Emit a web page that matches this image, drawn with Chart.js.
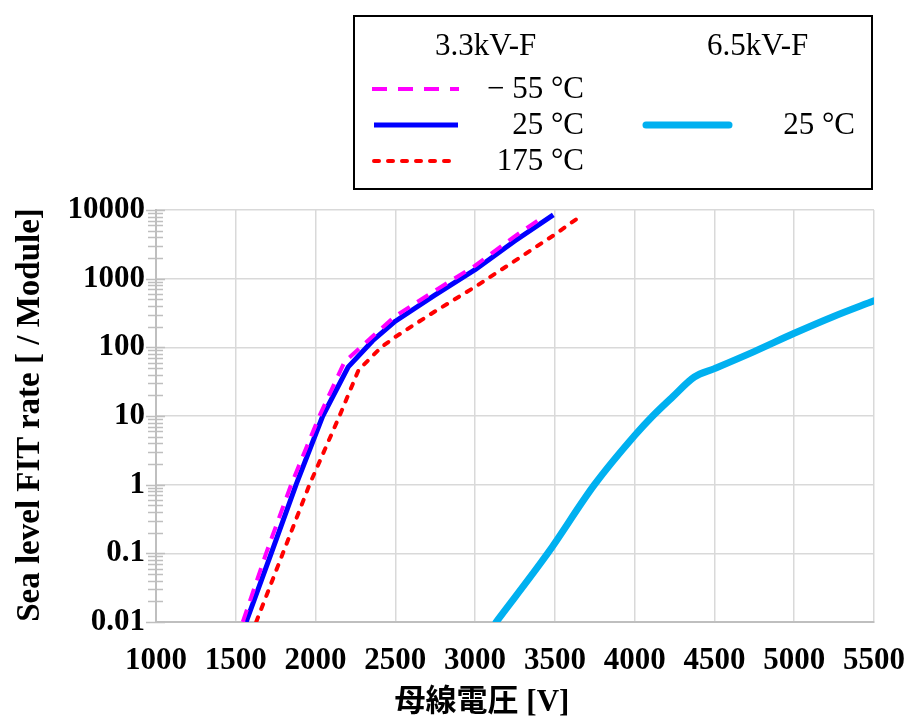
<!DOCTYPE html>
<html>
<head>
<meta charset="utf-8">
<script src="https://cdn.jsdelivr.net/npm/chart.js@4.4.1/dist/chart.umd.min.js"></script>
<style>
  html, body { margin: 0; padding: 0; background: #fff; }
  #wrap { position: relative; width: 908px; height: 717px; }
  #chart { position: absolute; left: 0; top: 0; }
  #overlay { position: absolute; left: 0; top: 0; pointer-events: none; }
  #overlay text { font-family: 'Liberation Serif', 'Noto Sans CJK JP', serif; fill: #000; }
</style>
</head>
<body>
<div id="wrap">
  <canvas id="chart" width="908" height="717"></canvas>
  <svg id="overlay" width="908" height="717"></svg>
</div>
<script>
// values
const xTickValues = [1000, 1500, 2000, 2500, 3000, 3500, 4000, 4500, 5000, 5500];
const yTickValues = [0.01, 0.1, 1, 10, 100, 1000, 10000];
const yTickLabels = ['0.01', '0.1', '1', '10', '100', '1000', '10000'];

const groupLabels = ['3.3kV-F', '6.5kV-F'];
const seriesLabels = ['− 55 °C', '25 °C', '175 °C', '25 °C'];

// 3.3kV-F, -55 C
const voltM55 = [1544, 1690, 1847, 2024, 2181, 2358, 2500, 2745, 3000, 3246, 3400];
const fitM55 = [0.01, 0.1, 1, 10, 61, 145, 285, 660, 1550, 4100, 7200];

// 3.3kV-F, 25 C
const volt25 = [1565, 1722, 1878, 2045, 2205, 2358, 2500, 2745, 3000, 3246, 3490];
const fit25 = [0.01, 0.1, 1, 10, 52, 125, 240, 570, 1350, 3500, 8500];

// 3.3kV-F, 175 C
const volt175 = [1628, 1795, 1962, 2150, 2270, 2411, 2500, 2745, 3000, 3246, 3500, 3643];
const fit175 = [0.01, 0.1, 1, 10, 47, 100, 142, 330, 760, 1800, 4400, 7600];

// 6.5kV-F, 25 C
const volt65 = [3132, 3455, 3748, 4000, 4113, 4238, 4374, 4500, 4745, 5000, 5243, 5500];
const fit65 = [0.01, 0.1, 1, 5.2, 10, 19, 37, 49, 86, 160, 279, 476];

const FONT = "'Liberation Serif', 'Noto Sans CJK JP', serif";
const GRID = '#D9D9D9';
const AXIS = '#BFBFBF';

function points(xs, ys) {
  return xs.map((x, i) => ({ x: x, y: ys[i] }));
}

const styles = [
  { color: '#FF00FF', width: 4, dash: [13, 9], cap: 'butt', legendDash: '15 11', smooth: false },
  { color: '#0000FF', width: 5, dash: [], cap: 'butt', legendDash: '', smooth: false },
  { color: '#FF0000', width: 4, dash: [5, 9], cap: 'round', legendDash: '5 9', smooth: false },
  { color: '#00B0F0', width: 7, dash: [], cap: 'round', legendDash: '', smooth: true },
];

const seriesData = [
  points(voltM55, fitM55),
  points(volt25, fit25),
  points(volt175, fit175),
  points(volt65, fit65),
];

const datasets = seriesData.map((d, i) => ({
  label: seriesLabels[i],
  data: d,
  borderColor: styles[i].color,
  borderWidth: styles[i].width,
  borderDash: styles[i].dash,
  borderCapStyle: styles[i].cap,
  borderJoinStyle: 'round',
  pointRadius: 0,
  fill: false,
  tension: styles[i].smooth ? 0.4 : 0,
  cubicInterpolationMode: styles[i].smooth ? 'monotone' : 'default',
}));

// minor ticks crossing the left axis
const minorTicks = {
  id: 'minorTicks',
  afterDraw(chart) {
    const ctx = chart.ctx;
    const ys = chart.scales.y;
    const left = chart.chartArea.left;
    ctx.save();
    ctx.strokeStyle = AXIS;
    ctx.lineWidth = 1.5;
    for (let i = 0; i < yTickValues.length; i++) {
      const dec = yTickValues[i];
      const last = i === yTickValues.length - 1;
      for (let m = 1; m <= (last ? 1 : 9); m++) {
        const py = Math.round(ys.getPixelForValue(m * dec)) + 0.5;
        const a = m === 1 ? 10 : 8;
        const b = m === 1 ? 9 : 7;
        ctx.beginPath();
        ctx.moveTo(left - a, py);
        ctx.lineTo(left + b, py);
        ctx.stroke();
      }
    }
    ctx.restore();
  },
};

new Chart(document.getElementById('chart'), {
  type: 'line',
  data: { datasets: datasets },
  plugins: [minorTicks],
  options: {
    responsive: false,
    animation: false,
    layout: { padding: { top: 210, right: 34, left: 0, bottom: 0 } },
    plugins: { legend: { display: false }, tooltip: { enabled: false } },
    scales: {
      x: {
        type: 'linear',
        min: 1000,
        max: 5500,
        afterFit(scale) {
          scale.height = 95;
          scale.paddingLeft = 0;
          scale.paddingRight = 0;
        },
        afterBuildTicks(scale) { scale.ticks = xTickValues.map((v) => ({ value: v })); },
        ticks: {
          padding: 20,
          color: '#000',
          font: { family: FONT, size: 31, weight: 'bold' },
          maxRotation: 0,
          autoSkip: false,
          callback: (v) => String(v),
        },
        grid: { color: GRID, lineWidth: 1.5, drawTicks: false },
        border: { color: AXIS, width: 2 },
      },
      y: {
        type: 'logarithmic',
        min: 0.01,
        max: 10000,
        afterFit(scale) {
          scale.width = 156;
          scale.paddingTop = 0;
          scale.paddingBottom = 0;
        },
        afterBuildTicks(scale) { scale.ticks = yTickValues.map((v) => ({ value: v })); },
        ticks: {
          padding: 11,
          color: '#000',
          font: { family: FONT, size: 31, weight: 'bold' },
          autoSkip: false,
          callback: (v) => {
            const i = yTickValues.findIndex((t) => Math.abs(Math.log10(t) - Math.log10(v)) < 1e-6);
            return i >= 0 ? yTickLabels[i] : '';
          },
        },
        grid: { color: GRID, lineWidth: 1.5, drawTicks: false },
        border: { color: AXIS, width: 2 },
      },
    },
  },
});

// legend box and axis titles as svg text
const svg = document.getElementById('overlay');
const NS = 'http://www.w3.org/2000/svg';
function add(tag, attrs, text) {
  const el = document.createElementNS(NS, tag);
  for (const k in attrs) el.setAttribute(k, attrs[k]);
  if (text) el.textContent = text;
  svg.appendChild(el);
  return el;
}

add('rect', { x: 354, y: 16, width: 518, height: 173, fill: '#fff', stroke: '#000', 'stroke-width': 2 });
add('text', { x: 435, y: 55, 'font-size': 31 }, groupLabels[0]);
add('text', { x: 707, y: 55, 'font-size': 31 }, groupLabels[1]);

const legendRows = [
  { x1: 372, x2: 459, y: 89, tx: 584, ty: 98 },
  { x1: 374, x2: 458, y: 125, tx: 584, ty: 134 },
  { x1: 374, x2: 458, y: 161, tx: 584, ty: 170 },
  { x1: 646, x2: 729, y: 125, tx: 855, ty: 134 },
];
legendRows.forEach((r, i) => {
  const s = styles[i];
  const line = { x1: r.x1, x2: r.x2, y1: r.y, y2: r.y, stroke: s.color, 'stroke-width': s.width, 'stroke-linecap': s.cap };
  if (s.legendDash) line['stroke-dasharray'] = s.legendDash;
  add('line', line);
  add('text', { x: r.tx, y: r.ty, 'font-size': 31, 'text-anchor': 'end' }, seriesLabels[i]);
});

add('text', { x: 482, y: 711, 'font-size': 31, 'font-weight': 'bold', 'text-anchor': 'middle' }, '母線電圧 [V]');
add('text', { transform: 'translate(39,415) rotate(-90)', 'font-size': 33, 'font-weight': 'bold', 'text-anchor': 'middle' }, 'Sea level FIT rate [ / Module]');
</script>
</body>
</html>
